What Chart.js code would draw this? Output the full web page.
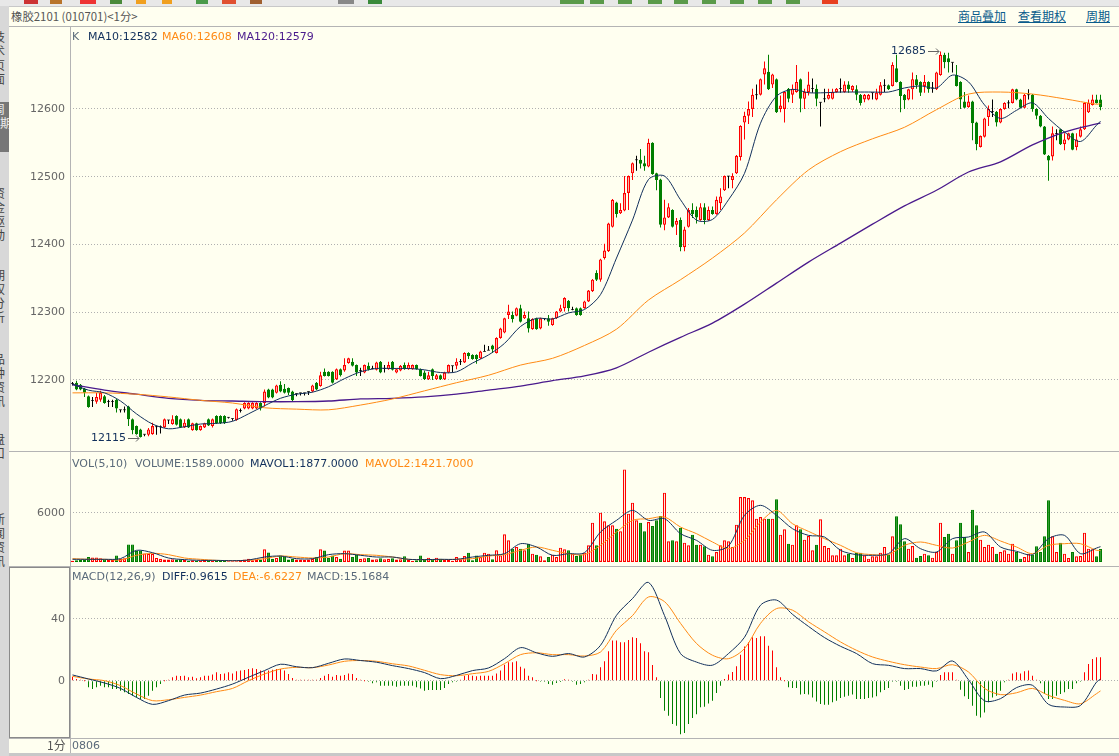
<!DOCTYPE html>
<html>
<head>
<meta charset="utf-8">
<title>橡胶2101</title>
<script src="https://cdn.jsdelivr.net/npm/chart.js@4"></script>
<style>
html, body { margin: 0; padding: 0; width: 1119px; height: 756px; overflow: hidden; background: #c8c8c8; }
#page { position: absolute; left: 9px; top: 7px; width: 1110px; height: 746px; background: #fffff0; }
#top { position: absolute; left: 0; top: 0; width: 1119px; height: 6px; background: #e8e8e8; overflow: hidden; }
#side { position: absolute; left: 0; top: 6px; width: 9px; height: 750px; background: #d8d8d8; overflow: hidden; }
.tab { position: absolute; left: -7px; width: 14px; font: 12px/14px "Noto Sans CJK SC"; color: #444; }
canvas { position: absolute; left: 9px; }
.t { position: absolute; font: 11px/14px "DejaVu Sans"; white-space: pre; color: #5a6a7a; }
.c { font-family: "Noto Sans CJK SC"; font-size: 12px; color: #555; }
.l { color: #0a5c8c; text-decoration: underline; }
.s { font-size: 11.4px; }
.hline { position: absolute; left: 9px; width: 1110px; height: 1px; background: #b4b4b4; }
.vline { position: absolute; width: 1px; background: #b4b4b4; }
</style>
</head>
<body>
<div id="top"></div>
<div id="side"></div>
<div id="page"></div>
<div class="hline" style="top:26px"></div>
<div class="hline" style="top:451px"></div>
<div class="hline" style="top:566px"></div>
<div class="hline" style="top:738px"></div>
<div class="vline" style="left:70px;top:26px;height:727px"></div>
<div style="position:absolute;left:9px;top:567px;width:59px;height:169px;border:1px solid #8a8a8a"></div>
<canvas id="priceChart" width="1110" height="424" style="top:27px"></canvas>
<canvas id="volChart" width="1110" height="115" style="top:451px"></canvas>
<canvas id="macdChart" width="1110" height="172" style="top:566px"></canvas>
<div id="labels"></div>

<script>
// Candles, one per minute
const opens = [
12195,12196,12193,12187,12176,12170,12168,12171,12176,12168,
12168,12171,12156,12156,12161,12142,12132,12127,12120,12119,
12120,12131,12131,12130,12141,12135,12147,12142,12130,12142,
12126,12136,12126,12130,12142,12132,12147,12147,12147,12145,
12143,12141,12155,12158,12158,12158,12158,12166,12166,12186,
12186,12181,12193,12187,12188,12183,12180,12181,12181,12183,
12183,12196,12191,12212,12212,12212,12201,12216,12214,12225,
12227,12222,12214,12211,12221,12217,12215,12227,12217,12216,
12227,12211,12214,12222,12216,12216,12222,12216,12211,12201,
12216,12201,12207,12201,12211,12221,12221,12227,12226,12240,
12237,12237,12232,12242,12244,12251,12240,12262,12270,12296,
12296,12295,12306,12291,12291,12275,12291,12276,12291,12291,
12281,12291,12301,12306,12317,12304,12306,12306,12306,12316,
12331,12358,12348,12380,12390,12426,12462,12446,12450,12476,
12505,12525,12525,12520,12515,12550,12505,12496,12429,12440,
12451,12429,12436,12396,12426,12451,12451,12436,12455,12436,
12451,12445,12461,12480,12501,12495,12505,12529,12580,12590,
12600,12621,12621,12651,12655,12636,12644,12600,12600,12630,
12621,12625,12644,12615,12625,12630,12630,12610,12615,12615,
12615,12625,12630,12625,12636,12628,12629,12621,12614,12614,
12624,12614,12621,12635,12635,12634,12660,12640,12621,12614,
12629,12644,12640,12634,12640,12631,12629,12650,12680,12675,
12669,12650,12640,12611,12603,12611,12580,12544,12559,12588,
12596,12596,12580,12600,12609,12609,12629,12614,12602,12621,
12621,12600,12590,12574,12531,12530,12564,12570,12548,12555,
12564,12544,12559,12570,12595,12606,12614,12614];
const closes = [
12195,12186,12186,12181,12160,12170,12175,12181,12166,12168,
12168,12158,12156,12156,12142,12126,12120,12116,12120,12127,
12132,12131,12131,12142,12141,12142,12134,12130,12137,12130,
12136,12126,12132,12136,12133,12142,12136,12136,12136,12145,
12143,12157,12155,12166,12166,12166,12166,12158,12183,12174,
12174,12192,12183,12181,12181,12170,12180,12181,12181,12183,
12192,12186,12207,12206,12206,12196,12216,12207,12222,12232,
12221,12211,12214,12222,12215,12217,12226,12211,12217,12222,
12215,12216,12221,12216,12222,12222,12216,12206,12201,12207,
12206,12207,12201,12211,12222,12221,12227,12227,12240,12235,
12231,12231,12242,12242,12244,12245,12262,12276,12291,12301,
12290,12306,12286,12296,12276,12290,12275,12291,12291,12286,
12291,12301,12306,12321,12306,12304,12296,12296,12316,12332,
12348,12348,12378,12391,12431,12466,12445,12451,12476,12501,
12520,12525,12519,12515,12550,12504,12495,12429,12440,12455,
12426,12435,12396,12422,12451,12445,12440,12455,12436,12451,
12445,12466,12471,12501,12501,12501,12531,12575,12590,12600,
12621,12621,12644,12660,12629,12651,12595,12605,12625,12615,
12630,12640,12615,12625,12636,12630,12615,12610,12615,12621,
12625,12630,12630,12636,12629,12634,12621,12609,12621,12621,
12624,12624,12635,12635,12629,12665,12640,12619,12613,12629,
12644,12635,12624,12640,12629,12631,12654,12680,12669,12669,
12669,12634,12614,12602,12611,12579,12548,12560,12586,12600,
12596,12580,12600,12609,12609,12629,12614,12602,12621,12621,
12600,12590,12574,12533,12524,12564,12564,12548,12555,12564,
12540,12555,12570,12609,12609,12614,12609,12603];
const highs = [
12197,12199,12194,12188,12177,12175,12181,12184,12178,12171,
12171,12172,12156,12161,12162,12143,12133,12128,12120,12129,
12137,12133,12133,12143,12141,12148,12148,12143,12142,12143,
12137,12137,12133,12137,12143,12143,12148,12148,12148,12145,
12143,12158,12158,12167,12167,12167,12167,12167,12186,12187,
12187,12193,12198,12194,12189,12184,12180,12181,12181,12183,
12193,12197,12212,12217,12213,12213,12217,12217,12232,12233,
12232,12223,12218,12223,12226,12221,12227,12228,12222,12227,
12228,12217,12222,12226,12226,12223,12223,12217,12214,12212,
12217,12209,12208,12212,12223,12221,12232,12231,12241,12241,
12238,12238,12243,12252,12250,12252,12263,12277,12292,12311,
12301,12307,12311,12301,12301,12291,12292,12292,12291,12296,
12292,12302,12311,12322,12318,12308,12307,12307,12317,12333,
12349,12362,12379,12401,12432,12467,12463,12461,12501,12502,
12521,12531,12541,12531,12556,12551,12506,12497,12466,12461,
12452,12439,12440,12426,12454,12461,12456,12461,12461,12456,
12456,12471,12483,12502,12501,12505,12532,12576,12596,12611,
12630,12636,12645,12670,12680,12652,12645,12620,12626,12631,
12636,12665,12645,12630,12655,12645,12636,12610,12630,12630,
12630,12631,12645,12641,12641,12635,12635,12622,12622,12622,
12624,12630,12640,12644,12636,12669,12680,12641,12622,12630,
12654,12650,12641,12650,12641,12640,12655,12685,12683,12683,
12669,12665,12641,12625,12620,12612,12581,12561,12587,12605,
12614,12597,12601,12610,12613,12630,12630,12615,12622,12629,
12622,12601,12591,12575,12532,12574,12570,12571,12564,12565,
12565,12564,12574,12610,12614,12621,12621,12621];
const lows = [
12192,12185,12185,12175,12159,12160,12165,12168,12165,12160,
12160,12152,12152,12152,12132,12120,12119,12115,12117,12117,
12119,12119,12121,12129,12135,12134,12133,12129,12129,12129,
12125,12125,12125,12129,12132,12130,12135,12135,12135,12143,
12140,12140,12152,12157,12157,12157,12157,12155,12161,12173,
12173,12180,12182,12180,12178,12169,12176,12177,12177,12178,
12182,12185,12190,12205,12205,12195,12200,12205,12212,12224,
12220,12206,12206,12210,12214,12216,12214,12210,12211,12215,
12214,12210,12213,12215,12215,12215,12215,12205,12200,12200,
12200,12200,12200,12200,12210,12211,12216,12222,12225,12231,
12230,12224,12231,12242,12244,12240,12239,12261,12269,12290,
12285,12294,12285,12290,12270,12274,12274,12275,12288,12280,
12280,12290,12300,12301,12301,12303,12295,12295,12305,12315,
12330,12346,12345,12378,12389,12425,12440,12445,12449,12451,
12495,12509,12512,12509,12514,12503,12480,12425,12421,12439,
12425,12414,12390,12390,12425,12439,12431,12435,12430,12435,
12444,12444,12451,12479,12483,12483,12504,12524,12555,12578,
12588,12614,12620,12636,12628,12631,12594,12595,12580,12610,
12609,12624,12595,12600,12620,12624,12604,12574,12610,12614,
12614,12624,12624,12624,12624,12625,12613,12605,12610,12613,
12614,12613,12620,12625,12628,12633,12639,12595,12600,12613,
12614,12630,12619,12624,12624,12624,12628,12649,12660,12654,
12654,12633,12600,12601,12602,12554,12539,12543,12558,12575,
12588,12574,12579,12599,12601,12608,12613,12601,12601,12614,
12596,12585,12573,12532,12494,12524,12554,12547,12539,12554,
12539,12539,12558,12569,12594,12605,12608,12598];

// Moving averages, read every few candles (last value is the final candle)
const ma10 = [
12194,12185,12181,12169,12150,12135,12128,12131,12135,12136,
12139,12150,12162,12173,12179,12182,12190,12202,12212,12217,
12217,12217,12215,12211,12212,12225,12237,12254,12279,12291,
12290,12299,12304,12326,12380,12436,12496,12501,12466,12436,
12437,12466,12505,12579,12619,12629,12624,12624,12625,12625,
12625,12625,12631,12634,12631,12650,12640,12606,12586,12598,
12609,12586,12566,12552,12576,12582];
const ma60 = [12181,12181,12179,12175,12170,12166,12159,12157,12156,12163,12172,12184,12196,12207,12222,12232,12251,12275,12318,12348,12380,12417,12466,12510,12537,12556,12573,12599,12622,12625,12622,12615,12607,12608];
const ma120 = [12193,12185,12179,12173,12170,12169,12168,12168,12169,12172,12173,12175,12179,12185,12191,12199,12206,12218,12241,12263,12284,12312,12343,12374,12402,12430,12457,12480,12507,12522,12547,12566,12578,12579];
const priceTicks = [12200, 12300, 12400, 12500, 12600];

const volume = [
150,200,250,300,600,550,550,450,350,250,300,800,400,450,2150,2150,1350,1400,1050,1000,
1000,500,400,300,300,350,300,350,250,150,200,150,150,250,200,150,150,200,200,100,
100,100,200,300,400,200,300,300,1550,1150,400,500,800,650,300,400,300,300,250,300,
400,600,1550,1400,500,800,600,400,1400,1400,600,900,400,450,500,300,350,450,350,400,
450,300,350,700,300,120,200,800,330,530,330,530,400,250,250,160,600,330,730,1140,
200,800,600,1140,1020,330,1430,800,3390,2650,1630,1840,1630,1430,2240,1020,900,690,200,600,
900,600,1750,1550,1430,1020,730,900,1140,2040,4810,2040,6040,4980,4490,4490,4080,3750,11340,5920,
7260,5100,4810,3750,4900,4410,5100,5630,8490,2530,2650,2530,4200,2370,2040,3350,2120,2120,1920,900,
690,1220,2040,2650,2530,1840,4570,7960,7960,7830,7550,5300,5510,5300,5300,5300,7670,3350,4000,2240,
2120,4490,4000,2730,3180,1430,2120,5220,1960,1710,820,820,1630,820,1020,490,1100,1140,820,410,
690,690,1140,1840,900,3140,5590,4610,2530,1630,1960,530,730,1020,820,530,1220,4810,3060,3470,
1020,2650,4810,3060,1220,6410,4490,2730,1840,2120,1840,1020,1220,1430,1020,2240,1220,410,610,1020,
900,1920,1220,3140,7550,3140,1220,2370,1020,490,1220,690,730,3590,1630,1550,690,1589];
const mavol1 = [
330,330,330,410,1430,1140,490,290,200,200,160,240,610,730,410,410,900,1020,820,610,610,
330,290,330,330,610,820,1020,2240,1840,820,1020,1140,3670,5100,6320,5100,5300,3470,2650,1430,1960,5710,6940,5710,4080,
3260,3060,1430,900,820,1020,2860,1630,1220,2860,3060,3670,1840,1310,900,2860,3260,1020,1710,1877];
const mavol2 = [
410,330,330,240,820,1060,900,490,330,200,160,200,410,730,610,490,610,1020,900,820,610,
330,290,290,330,410,730,900,1430,1840,1430,1020,900,2040,3670,5100,5300,5510,4280,3470,2450,1630,2650,4900,6320,4690,
3750,2860,2040,1140,900,900,2040,2450,2040,1710,2450,3260,2570,1840,1020,2040,2240,2240,1430,1422];
const volTicks = [6000];

const macd = [
2.6,1,.6,0,
-4.3,-5.4,-4.3,-3.2,-4.3,-4.3,-5.4,-5.4,-6.5,-7.5,-8.6,-9.7,-10.8,-11.9,-11.9,-9.7,-6.5,-4.3,-2.2,0,
.6,2.2,3.2,3,3.2,2.2,2.6,1.5,2.2,3.2,3.2,3.9,5.4,4.3,4.7,5.4,4.7,6,6.5,6.9,7.5,8,7.5,6.5,6,6.5,7.1,7.5,7.5,6.5,4.3,1.7,.4,
.2,.2,.2,.2,.2,
1.7,3.2,4.3,2.6,3.7,3.2,3.7,4.7,4.3,1.7,.4,
0,-.6,-1.7,-1.1,-3.2,-3.2,-3.2,-3.2,-3.9,
-3.2,-3.2,-3.2,-3.2,-4.3,-5,-6.5,-6,-6,-6,-6,-4.7,
-2.2,-1.1,-.4,.4,
3.2,3.7,3.2,2.8,3.2,3.2,3.2,3.2,4.7,6.5,10.3,11.9,11.9,12.5,9,7.8,3.2,2.2,
0,-.4,-.6,-2.2,-2.6,-1.5,-.9,.9,.2,-.6,-2.6,-2.2,-1.1,.4,
4.3,3.9,8.6,12.5,19,25.9,25.9,24.8,24.8,26.3,28,27.6,24.1,19,18.3,10.1,2.2,
-11.2,-19.4,-22.6,-28,-29.1,-34.5,-33.8,-28,-24.1,-21.6,-17.2,-16.8,-14.7,-12.9,-8,-3.2,
1.1,3.9,5.6,9.3,16.8,22,24.8,28,27.6,28.7,28.7,22.6,19.4,8.6,2.2,0,
-4.3,
-4.7,-4.7,-9,-8.6,-9,-10.8,-13.4,-15.1,-15.5,-15.5,-14,-12.9,-11.2,-10.3,-9.7,-9,-11.9,-11.9,-11.9,-11.2,
-10.8,-10.1,-7.5,-6,-4.7,-.4,-.4,-3.2,-6,-5.4,-3.9,-3.9,-3.2,-3.2,-2.6,-4.3,-.6,3.7,5.4,5.4,
5.4,.4,-5.8,-10.1,-11.9,-16.2,-22.6,-23.7,-20.5,-14,-10.8,-9.7,-6.5,-1.1,.4,4.7,5.4,4.7,6,6.5,
3.2,.6,-1.7,-8.6,-11.9,-11.9,-9.7,-8.6,-7.5,-5.4,-5.4,-1.7,-.4,5.4,10.8,14,15.1,15.17];
const diff = [
3.7,1.1,-1.5,-5,-10.8,-15.3,-12.9,-9.3,-8,-5.4,-2.2,2.2,6.5,10.6,9,8.4,11.2,14,13,11.9,9.7,
7.8,5.2,1.3,3.4,6.5,8.2,14.2,21.3,18,15.7,17.5,15.3,22.8,42.2,53,63.4,42,17.5,12,10,17.5,28,48.7,52,42.8,
35,27.8,22.2,17.5,11,9.9,7.8,7.8,6.3,12.7,.6,-13,-11.6,-4.5,-3,-15.3,-17,-16,-.9,.96];
const dea = [
2.8,1.1,0,-3.2,-8.6,-12.9,-12.3,-10.8,-9.3,-7.1,-5,0,4.3,7.5,8.6,8.4,10.1,12.5,13,12.5,10.9,
9.5,6.7,3.9,3.2,4.5,6,11,16.8,18,16.8,16.8,15.9,18.5,32.5,42,54,51,37,24,16.4,14.2,20.7,37,46.5,45.5,
38,31.5,25,19.6,15.3,12.5,10.3,8.8,7.8,10.3,5.6,-5,-9,-7.8,-5,-9.5,-12.7,-14.9,-8.4,-6.62];
const macdTicks = [0, 40];

// Colours
const BG = "#fffff0", RED = "#ff0000", GREEN = "#007f00", NAVY = "#12305c", ORANGE = "#ff8a14", PURPLE = "#4a1a8c";
const lastIdx = opens.length - 1;
const AXIS_LEFT = 61;
const WALL = 1.15; // red body walls, a bit over 1px so they stay red

// turns a sampled line into x,y points on the candle index
function sampled(values, step) {
    return values.map((v, k) => ({ x: Math.min(k * step, lastIdx), y: v }));
}
function lineSet(values, step, color, width) {
    return { type: "line", data: sampled(values, step), borderColor: color, borderWidth: width, pointRadius: 0, tension: 0.3, order: 0 };
}
function xAxis() {
    return { type: "linear", display: false, offset: false, min: -0.625, max: 261.625 };
}
function yAxis(min, max, tickList) {
    return {
        min: min, max: max,
        afterBuildTicks: scale => { scale.ticks = tickList.map(v => ({ value: v })); },
        // no room reserved for the tick labels, the panes fill their canvases
        afterFit: scale => { scale.width = AXIS_LEFT; scale.paddingTop = 0; scale.paddingBottom = 0; },
        ticks: { color: "#666", padding: 5, font: { family: "DejaVu Sans", size: 11 }, callback: v => String(v) },
        grid: { color: "#b0b0b0", drawTicks: false, lineWidth: 1 },
        border: { display: false, dash: [1, 2] }
    };
}
function baseOptions(scales) {
    return {
        responsive: false, animation: false, devicePixelRatio: 1,
        layout: { padding: 0 },
        plugins: { legend: { display: false }, tooltip: { enabled: false } },
        scales: scales
    };
}

// High and low labels with their small arrows
const extremes = {
    id: "extremes",
    afterDatasetsDraw(chart) {
        const ctx = chart.ctx, xs = chart.scales.x, ys = chart.scales.y;
        const hi = Math.max(...highs), lo = Math.min(...lows);
        [[highs.indexOf(hi), hi], [lows.indexOf(lo), lo]].forEach(p => {
            const px = Math.round(xs.getPixelForValue(p[0])) - 2, py = Math.round(ys.getPixelForValue(p[1]));
            ctx.save();
            ctx.font = "11px 'DejaVu Sans'";
            ctx.fillStyle = NAVY;
            ctx.textAlign = "right";
            ctx.textBaseline = "middle";
            ctx.fillText(String(p[1]), px - 13, py);
            ctx.strokeStyle = "#666";
            ctx.beginPath();
            ctx.moveTo(px - 11, py + 0.5); ctx.lineTo(px, py + 0.5);
            ctx.moveTo(px - 3, py - 2.5); ctx.lineTo(px, py + 0.5); ctx.lineTo(px - 3, py + 3.5);
            ctx.stroke();
            ctx.restore();
        });
    }
};

// Price pane
const candleEdge = opens.map((o, i) => closes[i] > o ? RED : closes[i] < o ? GREEN : "#000");
const candleFill = opens.map((o, i) => closes[i] > o ? BG : closes[i] < o ? GREEN : "#000");
new Chart(document.getElementById("priceChart"), {
    type: "bar",
    data: {
        datasets: [
            lineSet(ma10, 4, NAVY, 1),
            lineSet(ma60, 8, ORANGE, 1),
            lineSet(ma120, 8, PURPLE, 1.3),
            {
                data: opens.map((o, i) => ({ x: i, y: o === closes[i] ? [o - 0.5, o + 0.5] : [o, closes[i]] })),
                grouped: false, barThickness: 3, borderSkipped: false, inflateAmount: 0,
                backgroundColor: candleFill, borderColor: candleEdge,
                borderWidth: opens.map((o, i) => o === closes[i] ? 0 : WALL), order: 1
            },
            {
                data: highs.map((h, i) => ({ x: i, y: [lows[i], h] })),
                grouped: false, barThickness: 1, inflateAmount: 0, backgroundColor: candleEdge, order: 2
            }
        ]
    },
    options: baseOptions({ x: xAxis(), y: yAxis(12095.2, 12721, priceTicks) }),
    plugins: [extremes]
});

// Volume pane
const volColor = opens.map((o, i) => closes[i] >= o ? RED : GREEN);
new Chart(document.getElementById("volChart"), {
    type: "bar",
    data: {
        datasets: [
            lineSet(mavol1, 4, NAVY, 1),
            lineSet(mavol2, 4, ORANGE, 1),
            {
                data: volume.map((v, i) => ({ x: i, y: v })),
                grouped: false, barThickness: 3, borderSkipped: false, inflateAmount: 0,
                backgroundColor: opens.map((o, i) => closes[i] >= o ? BG : GREEN),
                borderColor: volColor, borderWidth: WALL, order: 1
            }
        ]
    },
    options: baseOptions({ x: xAxis(), y: yAxis(-490, 13590, volTicks) })
});

// MACD pane
new Chart(document.getElementById("macdChart"), {
    type: "bar",
    data: {
        datasets: [
            lineSet(diff, 4, NAVY, 1),
            lineSet(dea, 4, ORANGE, 1),
            {
                data: macd.map((v, i) => ({ x: i, y: v })),
                grouped: false, barThickness: 1, minBarLength: 1, inflateAmount: 0,
                backgroundColor: macd.map(v => v >= 0 ? RED : GREEN), order: 1
            }
        ]
    },
    options: baseOptions({ x: xAxis(), y: yAxis(-37, 74, macdTicks) })
});

// Text around the panes
const texts = [
    ["橡胶2101 (010701)<1分>", 11, 9, "#555", "c s"],
    ["商品叠加", 958, 9, "", "c l"], ["查看期权", 1018, 9, "", "c l"], ["周期", 1086, 9, "", "c l"],
    ["K", 72, 30, "#5a6a7a"], ["MA10:12582", 88, 30, NAVY], ["MA60:12608", 162, 30, ORANGE], ["MA120:12579", 237, 30, PURPLE],
    ["VOL(5,10)", 72, 457, "#5a6a7a"], ["VOLUME:1589.0000", 135, 457, "#5a6a7a"], ["MAVOL1:1877.0000", 250, 457, NAVY], ["MAVOL2:1421.7000", 365, 457, ORANGE],
    ["MACD(12,26,9)", 72, 570, "#5a6a7a"], ["DIFF:0.9615", 162, 570, NAVY], ["DEA:-6.6227", 233, 570, ORANGE], ["MACD:15.1684", 307, 570, "#5a6a7a"],
    ["1分", 47, 738, "#555", "c"], ["0806", 72, 739, "#5a6a7a"]
];
const holder = document.getElementById("labels");
texts.forEach(t => {
    const d = document.createElement("div");
    d.className = "t " + (t[4] || "");
    d.textContent = t[0];
    d.style.left = t[1] + "px";
    d.style.top = t[2] + "px";
    if (t[3]) d.style.color = t[3];
    holder.appendChild(d);
});

// Cut off toolbar icons along the top edge
const icons = [[24,14,"#c33"],[50,12,"#b8742a"],[80,16,"#e33"],[110,12,"#4a8a3a"],[136,10,"#f0a020"],[162,10,"#f0a020"],[196,12,"#4a9a4a"],[222,14,"#e05030"],[250,12,"#a06030"],[338,16,"#888"],[368,14,"#3a8a3a"],[560,24,"#5a9a4a"],[590,14,"#5a9a4a"],[618,14,"#5a9a4a"],[648,14,"#5a9a4a"],[674,14,"#5a9a4a"],[702,14,"#5a9a4a"],[730,14,"#5a9a4a"],[758,14,"#5a9a4a"],[786,14,"#5a9a4a"],[822,16,"#e84020"]];
icons.forEach(ic => {
    const d = document.createElement("div");
    d.style.cssText = "position:absolute;top:0;height:4px;left:" + ic[0] + "px;width:" + ic[1] + "px;background:" + ic[2];
    document.getElementById("top").appendChild(d);
});

// Side tabs, mostly out of view in the picture
const tabs = [["技术页面", 24, 0], ["周期", 96, 1], ["资金驱动", 180, 0], ["期权分析", 262, 0], ["品种资讯", 346, 0], ["盘口", 426, 0], ["新闻资讯", 506, 0]];
tabs.forEach(t => {
    const d = document.createElement("div");
    d.className = "tab";
    d.textContent = t[0];
    d.style.top = t[1] + "px";
    if (t[2]) { d.style.background = "#777"; d.style.color = "#eee"; d.style.left = "0"; d.style.width = "9px"; d.style.height = "50px"; d.style.overflow = "hidden"; d.style.textIndent = "-7px"; }
    document.getElementById("side").appendChild(d);
});
</script>
</body>
</html>
